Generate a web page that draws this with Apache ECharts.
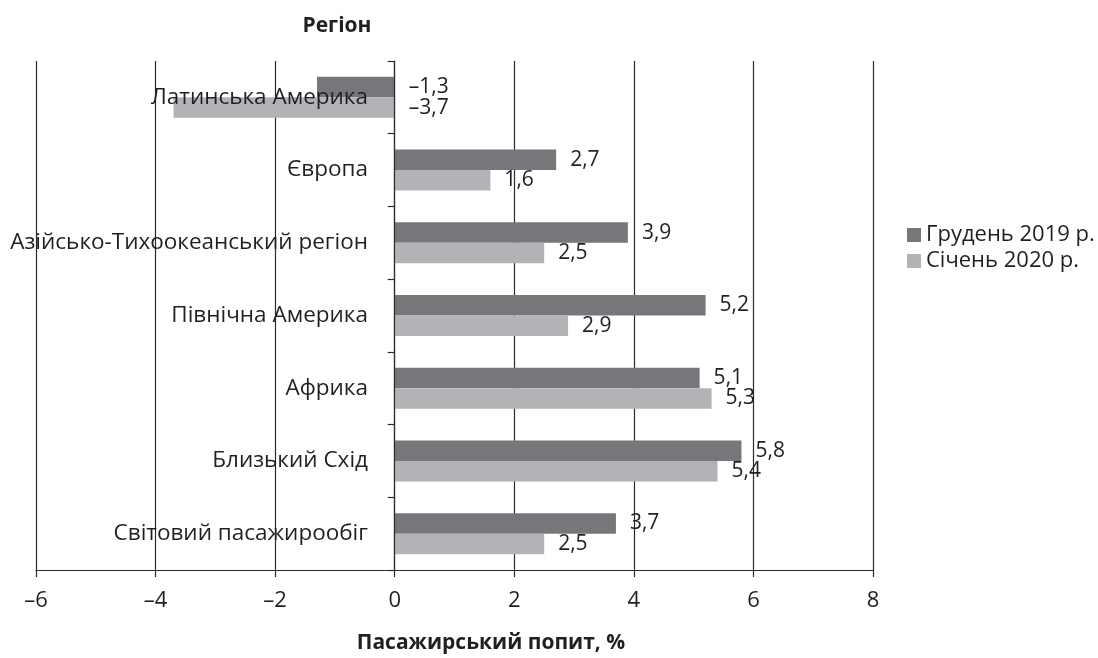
<!DOCTYPE html>
<html>
<head>
<meta charset="utf-8">
<script src="https://cdn.jsdelivr.net/npm/echarts@6/dist/echarts.min.js"></script>
<style>
  html, body { margin: 0; padding: 0; background: #ffffff; }
  #chart { width: 1098px; height: 658px; }
</style>
</head>
<body>
<div id="chart"></div>
<script>
// Regions, top to bottom
const regions = [
  'Латинська Америка',
  'Європа',
  'Азійсько-Тихоокеанський регіон',
  'Північна Америка',
  'Африка',
  'Близький Схід',
  'Світовий пасажирообіг'
];
// Passenger demand change, %
const dec2019 = [-1.3, 2.7, 3.9, 5.2, 5.1, 5.8, 3.7];
const jan2020 = [-3.7, 1.6, 2.5, 2.9, 5.3, 5.4, 2.5];
const seriesNames = ['Грудень 2019 р.', 'Січень 2020 р.'];
const xTicks = { min: -6, max: 8, interval: 2 };

const FONT = '"Open Sans", "Noto Sans", sans-serif';
const TEXT = '#231f20';
const DARK = '#76777b';
const LIGHT = '#b2b3b6';
const LINE = '#2b2b2b';

// Decimal comma and en-dash minus
const fmt = v => {
  const s = Math.abs(v).toString().replace('.', ',');
  return (v < 0 ? '\u2013' : '') + s;
};

const chart = echarts.init(document.getElementById('chart'), null, { renderer: 'canvas' });

const barLabel = {
  show: true,
  position: 'right',
  distance: 14,
  color: TEXT,
  fontFamily: FONT,
  fontSize: 21,
  formatter: p => fmt(p.value)
};

chart.setOption({
  animation: false,
  backgroundColor: '#ffffff',
  title: [
    {
      text: 'Регіон',
      left: 332, top: 11,
      textAlign: 'center',
      textStyle: { fontFamily: FONT, fontWeight: 'bold', fontSize: 21, color: TEXT }
    },
    {
      text: 'Пасажирський попит, %',
      left: 486, top: 628,
      textAlign: 'center',
      textStyle: { fontFamily: FONT, fontWeight: 'bold', fontSize: 21, color: TEXT }
    }
  ],
  legend: {
    orient: 'vertical',
    left: 907, top: 224,
    icon: 'rect',
    itemWidth: 14, itemHeight: 14,
    itemGap: 4,
    padding: 0,
    textStyle: { fontFamily: FONT, fontSize: 22, color: TEXT },
    data: seriesNames
  },
  grid: { left: 36, right: 225, top: 61, bottom: 88, outerBoundsMode: 'none', containLabel: false },
  xAxis: {
    type: 'value',
    min: xTicks.min, max: xTicks.max, interval: xTicks.interval,
    axisLine: { show: true, onZero: false, lineStyle: { color: LINE, width: 1.2 } },
    axisTick: { show: true, length: 7, lineStyle: { color: LINE, width: 1.2 } },
    splitLine: { show: true, lineStyle: { color: LINE, width: 1.2 } },
    axisLabel: {
      margin: 20, color: TEXT, fontFamily: FONT, fontSize: 22,
      formatter: v => fmt(v)
    }
  },
  yAxis: {
    type: 'category',
    inverse: true,
    data: regions,
    z: 5,
    axisLine: { show: true, onZero: true, lineStyle: { color: LINE, width: 1.2 } },
    axisTick: { show: true, length: 7, lineStyle: { color: LINE, width: 1.2 } },
    // labels sit left of the zero line, which is 359px right of the grid edge
    axisLabel: { margin: -332, color: TEXT, fontFamily: FONT, fontSize: 22.5 },
    splitLine: { show: false }
  },
  series: [
    {
      name: seriesNames[0],
      type: 'bar',
      data: dec2019,
      barWidth: 20.5,
      barGap: '0%',
      itemStyle: { color: DARK },
      label: barLabel
    },
    {
      name: seriesNames[1],
      type: 'bar',
      data: jan2020,
      barWidth: 20.5,
      itemStyle: { color: LIGHT },
      label: barLabel
    }
  ]
});
</script>
</body>
</html>
